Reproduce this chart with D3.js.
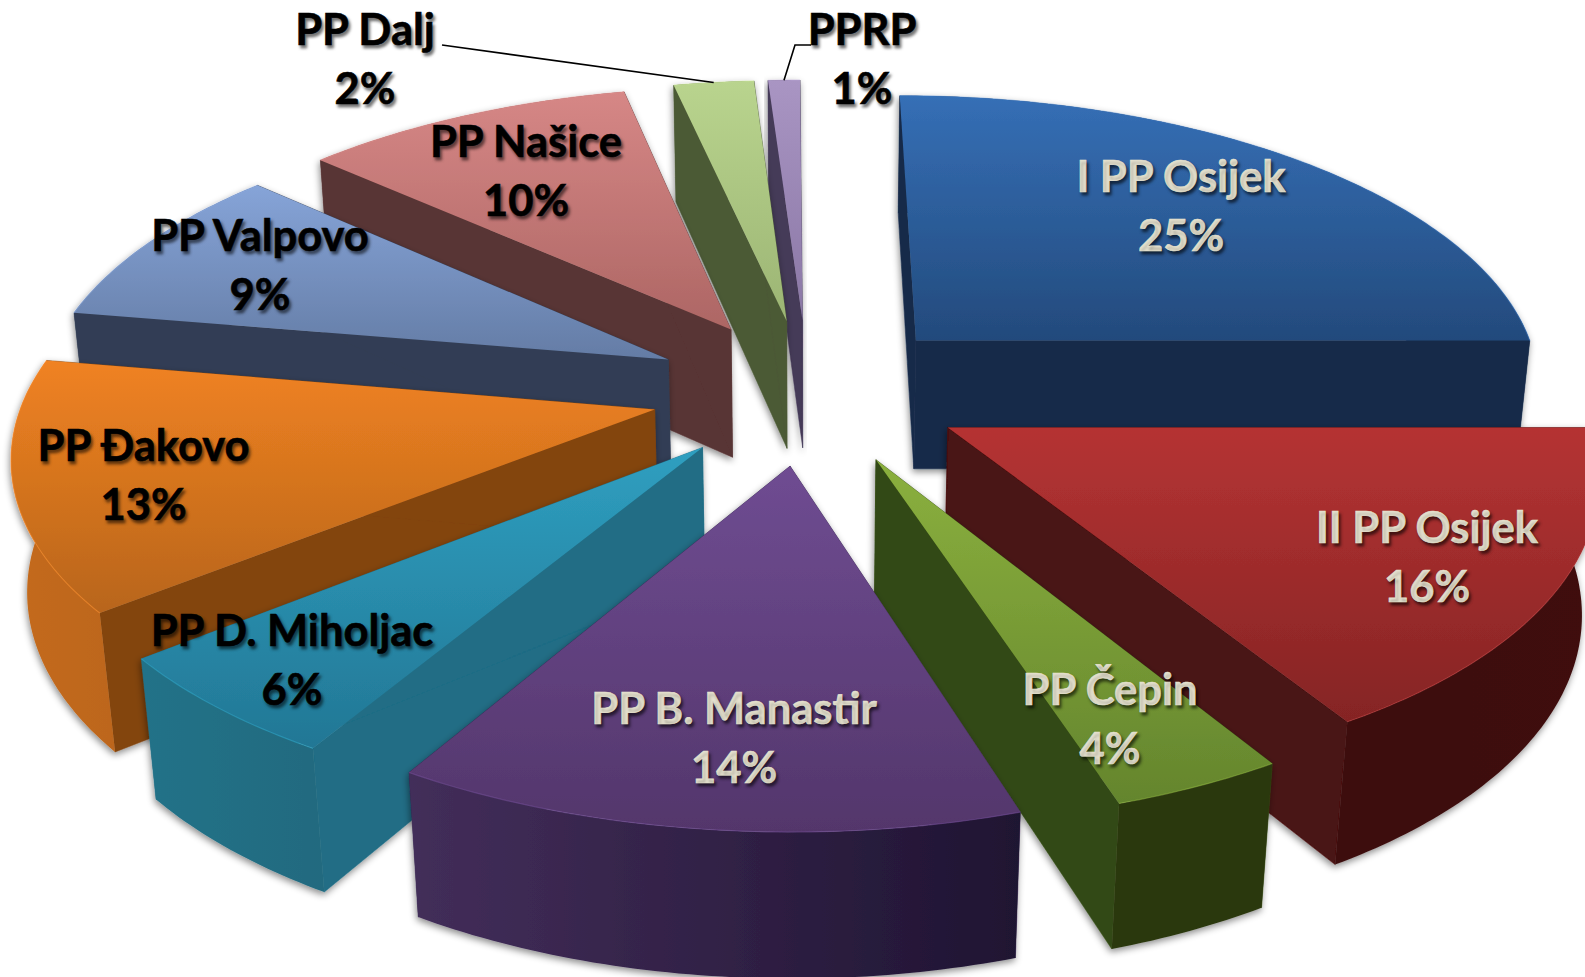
<!DOCTYPE html>
<html><head><meta charset="utf-8">
<script src="https://cdn.jsdelivr.net/npm/d3@7/dist/d3.min.js"></script>
<style>
html,body{margin:0;padding:0;background:#fff;overflow:hidden}
svg{display:block}
text{font-family:Lato,"Open Sans",sans-serif;font-weight:700;font-size:43.5px;text-anchor:middle;stroke-width:.6px}
.dark{fill:#000;stroke:#000;text-shadow:2px 3px 3px rgba(0,0,0,.55)}
.light{fill:#e6e2cf;stroke:#e6e2cf;text-shadow:2px 3px 3px rgba(0,0,0,.6)}
</style></head><body>
<script>
// ---- data ----
const categories = ["I PP Osijek","II PP Osijek","PP Čepin","PP B. Manastir","PP D. Miholjac","PP Đakovo","PP Valpovo","PP Našice","PP Dalj","PPRP"];
const shares = [25,16.35,3.75,13.5,5.65,13.45,9.02,9.93,2.4,0.95];
// ---- styles ----
const topLight = ["#356fb6","#b53333","#8bb03e","#6f4c92","#2f9fc0","#f08222","#86a4d8","#d68786","#b9d48e","#a995c3"];
const topDark  = ["#234a7c","#852424","#64852d","#53366b","#227795","#b8651a","#647ca5","#ad6664","#9cb574","#8a77a5"];
const wallCol  = ["#172b4a","#4a1212","#334a15","#33234a","#206d85","#83450f","#333e54","#593535","#4c5a36","#453a58"];
const rimA     = ["#172b4a","#3a0e0e","#2c3811","#432e5a","#237288","#c46a1c","#333e54","#593535","#4c5a36","#453a58"];
const rimB     = ["#172b4a","#3f1010","#2c3811","#1f1432","#1b5a6d","#97500f","#333e54","#593535","#4c5a36","#453a58"];
const textClass = ["light","light","light","light","dark","dark","dark","dark","dark","dark"];
// label layout: centre x, first baseline
const labelX = [1181,1427,1110,734,292,143.5,260,526,365,862];
const labelY = [192,543,705,724,646,461,251,157,45,45];
// ---- layout ----
const W=1585,H=977;
const cx=808,cy=391,Rx=629,Ry=292;
const persp=0.139, taper=0.02, depth=0.455, explode=0.25, shear=0.006;
const xS=d3.scaleLinear().domain([-1,1]).range([cx-Rx,cx+Rx]);
const yS=d3.scaleLinear().domain([-1,1]).range([cy-Ry,cy+Ry]);

const svg=d3.select("body").append("svg").attr("width",W).attr("height",H).attr("viewBox",`0 0 ${W} ${H}`);
const defs=svg.append("defs");
const f=defs.append("filter").attr("id","sh").attr("x","-10%").attr("y","-10%").attr("width","120%").attr("height","120%");
f.append("feDropShadow").attr("dx",-1).attr("dy",3).attr("stdDeviation",3.5).attr("flood-color","#000").attr("flood-opacity",.45);

const pie=d3.pie().sort(null).value(d=>d)(shares);
pie.forEach((p,i)=>{p.i=i;p.mid=(p.startAngle+p.endAngle)/2;});

function pt(p,theta,r,z){
  const x=r*Math.sin(theta)+explode*Math.sin(p.mid);
  const y=-r*Math.cos(theta)-explode*Math.cos(p.mid);
  const w=1/(1-persp*y+taper*z);
  return [xS((x+shear*y)*w),yS((y+depth*z)*w)];
}
const line=d3.line();
function arcAngles(p){
  const n=Math.max(4,Math.ceil((p.endAngle-p.startAngle)/0.015));
  return d3.range(n+1).map(j=>p.startAngle+(p.endAngle-p.startAngle)*j/n);
}
const order=pie.slice().sort((a,b)=>Math.cos(b.mid)-Math.cos(a.mid));

order.forEach(p=>{
  const i=p.i, as=arcAngles(p);
  const topPts=[pt(p,0,0,0),...as.map(a=>pt(p,a,1,0))];
  const xs=topPts.map(d=>d[0]), ys=topPts.map(d=>d[1]);
  const gt=defs.append("linearGradient").attr("id","t"+i).attr("gradientUnits","userSpaceOnUse")
    .attr("x1",0).attr("x2",0).attr("y1",d3.min(ys)).attr("y2",d3.max(ys));
  gt.append("stop").attr("offset",0).attr("stop-color",topLight[i]);
  gt.append("stop").attr("offset",1).attr("stop-color",topDark[i]);
  const gr=defs.append("linearGradient").attr("id","r"+i).attr("gradientUnits","userSpaceOnUse")
    .attr("y1",0).attr("y2",0).attr("x1",d3.min(xs)).attr("x2",d3.max(xs));
  gr.append("stop").attr("offset",0).attr("stop-color",rimA[i]);
  gr.append("stop").attr("offset",1).attr("stop-color",rimB[i]);

  const g=svg.append("g").attr("class","slice").attr("filter","url(#sh)");
  // radial walls
  [p.startAngle,p.endAngle].forEach(a=>{
    g.append("path").attr("d",line([pt(p,0,0,0),pt(p,a,1,0),pt(p,a,1,1),pt(p,0,0,1)])+"Z")
      .attr("fill",wallCol[i]).attr("stroke",wallCol[i]).attr("stroke-width",.5);
  });
  // outer rim
  const rim=[...as.map(a=>pt(p,a,1,0)),...as.slice().reverse().map(a=>pt(p,a,1,1))];
  g.append("path").attr("d",line(rim)+"Z").attr("fill",`url(#r${i})`);
  // top face
  g.append("path").attr("d",line(topPts)+"Z").attr("fill",`url(#t${i})`);
  // bevel highlight
  g.append("path").attr("d",line(as.map(a=>pt(p,a,1,0)))).attr("fill","none")
    .attr("stroke",d3.color(topLight[i]).brighter(.2)).attr("stroke-width",1.2).attr("stroke-opacity",.5);
});

// leader lines
const leaderFrom={ 8:[[442,45]], 9:[[811,45],[795,45]] };
Object.keys(leaderFrom).forEach(k=>{
  const p=pie[+k];
  svg.append("path").attr("class","leader")
    .attr("d",line([...leaderFrom[k],pt(p,p.mid,1.0,0)]))
    .attr("fill","none").attr("stroke","#000").attr("stroke-width",1.6);
});

// labels
const fmt=d3.format(".0f");
categories.forEach((c,i)=>{
  const t=svg.append("text").attr("class",textClass[i]).attr("x",labelX[i]).attr("y",labelY[i]);
  t.append("tspan").attr("x",labelX[i]).text(c);
  t.append("tspan").attr("x",labelX[i]).attr("dy",58.5).text(fmt(shares[i])+"%");
});
</script>
</body></html>
